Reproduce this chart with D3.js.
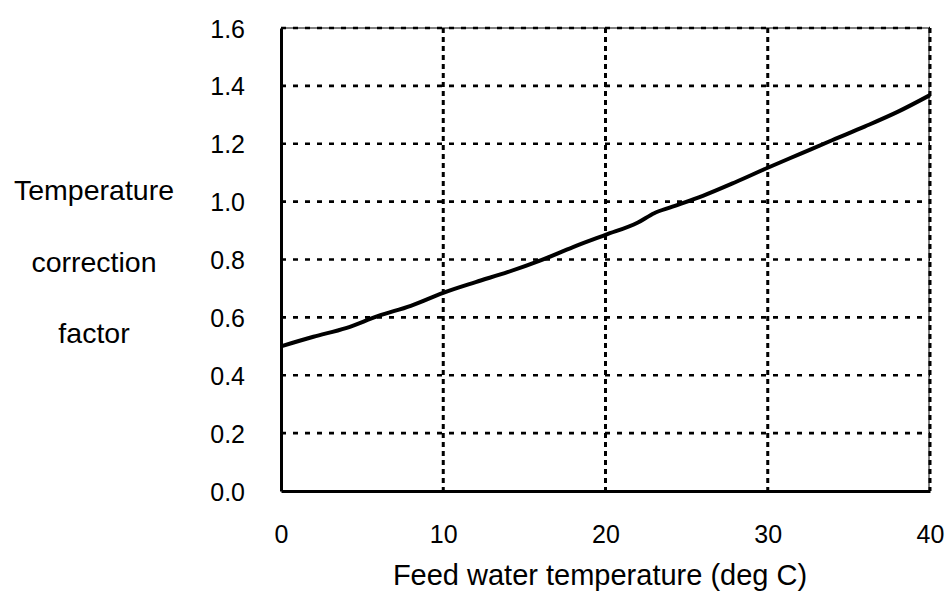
<!DOCTYPE html>
<html><head><meta charset="utf-8">
<script src="https://cdn.jsdelivr.net/npm/d3@7"></script>
<style>html,body{margin:0;padding:0;background:#fff;}</style>
</head><body>
<svg id="chart" width="948" height="592"></svg>
<script>
const temps   = [0, 2, 4, 6, 8, 10, 12, 14, 16, 18, 20, 22, 23, 24, 26, 28, 30, 32, 34, 36, 38, 40];
const factors = [0.50, 0.533, 0.563, 0.605, 0.64, 0.685, 0.722, 0.757, 0.797, 0.843, 0.885, 0.928, 0.96, 0.98, 1.02, 1.067, 1.117, 1.165, 1.213, 1.26, 1.31, 1.368];
const xTicks = [0, 10, 20, 30, 40];
const yTicks = [0.0, 0.2, 0.4, 0.6, 0.8, 1.0, 1.2, 1.4, 1.6];
const yTitleLines = ["Temperature", "correction", "factor"];
const xTitle = "Feed water temperature (deg C)";

const svg = d3.select("#chart");
const L = 281, R = 930, T = 28, B = 491;
const x = d3.scaleLinear().domain([0, 40]).range([L, R]);
const y = d3.scaleLinear().domain([0, 1.6]).range([B, T]);
const FONT = "'Liberation Sans', Arial, sans-serif";

// horizontal gridlines
svg.append("g").selectAll("line").data(yTicks.filter(d => d > 0)).join("line")
  .attr("x1", L).attr("x2", R).attr("y1", d => y(d)).attr("y2", d => y(d))
  .attr("stroke", "#000").attr("stroke-width", 2.6).attr("stroke-dasharray", "5,7");
// vertical gridlines
svg.append("g").selectAll("line").data(xTicks.filter(d => d > 0)).join("line")
  .attr("x1", d => x(d)).attr("x2", d => x(d)).attr("y1", T).attr("y2", B)
  .attr("stroke", "#000").attr("stroke-width", 3).attr("stroke-dasharray", "5,4");
// thin frame top/right
svg.append("line").attr("x1", L).attr("x2", R).attr("y1", T).attr("y2", T).attr("stroke", "#000").attr("stroke-width", 1);
svg.append("line").attr("x1", R - 1).attr("x2", R - 1).attr("y1", T).attr("y2", B).attr("stroke", "#000").attr("stroke-width", 1);

// axes
const xAxis = d3.axisBottom(x).tickValues(xTicks).tickSize(0).tickFormat(d3.format("d"));
const yAxis = d3.axisLeft(y).tickValues(yTicks).tickSize(0).tickFormat(d3.format(".1f"));

const gx = svg.append("g").attr("transform", `translate(0,${B})`).call(xAxis);
gx.select(".domain").attr("stroke", "#000").attr("stroke-width", 3);
gx.selectAll("text").attr("font-family", FONT)
  .attr("font-size", 25).attr("fill", "#000").attr("dy", null).attr("y", 52);

const gy = svg.append("g").attr("transform", `translate(${L},0)`).call(yAxis);
gy.select(".domain").attr("stroke", "#000").attr("stroke-width", 3);
gy.selectAll("text").attr("font-family", FONT)
  .attr("font-size", 25).attr("fill", "#000").attr("x", -36).attr("dy", "0.36em");

// curve
const line = d3.line().x((d, i) => x(temps[i])).y(d => y(d)).curve(d3.curveMonotoneX);
svg.append("path").datum(factors).attr("d", line)
  .attr("fill", "none").attr("stroke", "#000").attr("stroke-width", 4);

// titles
const yTitleBase = [200, 272, 343];
svg.append("g").selectAll("text").data(yTitleLines).join("text")
  .attr("x", 94).attr("y", (d, i) => yTitleBase[i])
  .attr("text-anchor", "middle").attr("font-family", FONT)
  .attr("font-size", 28.5).text(d => d);
svg.append("text").attr("x", 600).attr("y", 585)
  .attr("text-anchor", "middle").attr("font-family", FONT)
  .attr("font-size", 29).text(xTitle);
</script>
</body></html>
